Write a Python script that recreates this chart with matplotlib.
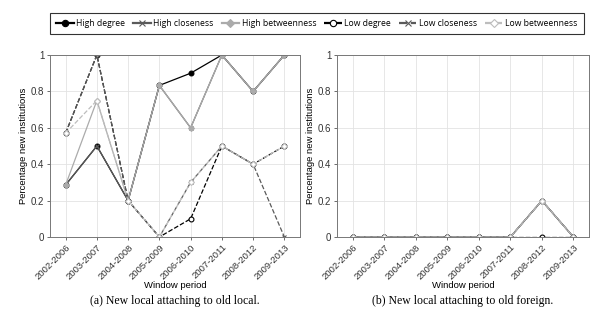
import numpy as np
import matplotlib
matplotlib.use("Agg")
import matplotlib.pyplot as plt

# window periods on the x axis
periods = ["2002-2006", "2003-2007", "2004-2008", "2005-2009",
           "2006-2010", "2007-2011", "2008-2012", "2009-2013"]

# (a) new local attaching to old local
a_high_degree = [0.286, 0.5, 0.2, 0.833, 0.9, 1.0, 0.8, 1.0]
a_high_closeness = [0.286, 0.5, 0.2, 0.833, 0.6, 1.0, 0.8, 1.0]
a_high_betweenness = [0.286, 0.75, 0.2, 0.833, 0.6, 1.0, 0.8, 1.0]
a_low_degree = [0.571, 1.0, 0.2, 0.0, 0.1, 0.5, 0.4, 0.5]
a_low_closeness = [0.571, 1.0, 0.2, 0.0, 0.3, 0.5, 0.4, 0.0]
a_low_betweenness = [0.571, 0.75, 0.2, 0.0, 0.3, 0.5, 0.4, 0.5]

# (b) new local attaching to old foreign
b_high_degree = [0, 0, 0, 0, 0, 0, 0.2, 0]
b_high_closeness = [0, 0, 0, 0, 0, 0, 0.2, 0]
b_high_betweenness = [0, 0, 0, 0, 0, 0, 0.2, 0]
b_low_degree = [0, 0, 0, 0, 0, 0, 0, 0]
b_low_closeness = [0, 0, 0, 0, 0, 0, 0.2, 0]
b_low_betweenness = [0, 0, 0, 0, 0, 0, 0.2, 0]

labels = ["High degree", "High closeness", "High betweenness",
          "Low degree", "Low closeness", "Low betweenness"]
captions = ["(a) New local attaching to old local.",
            "(b) New local attaching to old foreign."]

styles = [
    dict(color="black", ls="-", marker="o", mfc="black"),
    dict(color="#5a5a5a", ls="-", marker="x", mfc="#5a5a5a"),
    dict(color="#ababab", ls="-", marker="D", mfc="#ababab", ms=3),
    dict(color="black", ls="--", marker="o", mfc="white"),
    dict(color="#5a5a5a", ls="--", marker="x", mfc="#5a5a5a"),
    dict(color="#bdbdbd", ls="--", marker="D", mfc="white", ms=3),
]

fig = plt.figure(figsize=(6.15, 3.18), dpi=100)
ax_a = fig.add_axes([0.0813, 0.2547, 0.4065, 0.5723])
ax_b = fig.add_axes([0.548, 0.2547, 0.41, 0.5723])

x = np.arange(1, len(periods) + 1)
data = [
    [a_high_degree, a_high_closeness, a_high_betweenness,
     a_low_degree, a_low_closeness, a_low_betweenness],
    [b_high_degree, b_high_closeness, b_high_betweenness,
     b_low_degree, b_low_closeness, b_low_betweenness],
]

tick_font = "Liberation Sans"
handles = []
for ax, series, cap in zip([ax_a, ax_b], data, captions):
    for vals, lab, st in zip(series, labels, styles):
        st = dict(st)
        ms = st.pop("ms", 3.5)
        h, = ax.plot(x, vals, lw=0.9, ms=ms, mew=0.8, label=lab, **st)
        if ax is ax_a:
            handles.append(h)
    ax.set_xlim(0.5, 8.5)
    ax.set_ylim(0, 1)
    ax.set_xticks(x)
    ax.set_xticklabels(periods, rotation=45, ha="right",
                       rotation_mode="anchor", fontsize=6.8, family=tick_font)
    ax.set_yticks([0, 0.2, 0.4, 0.6, 0.8, 1])
    ax.set_yticklabels(["0", "0.2", "0.4", "0.6", "0.8", "1"], fontsize=7,
                       family=tick_font)
    ax.tick_params(length=2, width=0.5, colors="#333333", pad=2)
    ax.grid(True, color="#e3e3e3", lw=0.6)
    ax.set_axisbelow(True)
    for sp in ax.spines.values():
        sp.set_color("#777777")
        sp.set_linewidth(0.7)
    ax.set_ylabel("Percentage new institutions", fontsize=6.8, labelpad=2,
                  family=tick_font)
    ax.set_xlabel("Window period", fontsize=6.8, labelpad=0, family=tick_font)
    pos = ax.get_position()
    fig.text(pos.x0 + pos.width / 2, 0.052, cap, ha="center", va="center",
             fontsize=8.5, family="Liberation Serif")

leg = fig.legend(handles=handles, loc="center left", ncol=6,
                 bbox_to_anchor=(0.0813, 0.926), borderaxespad=0,
                 frameon=True, fancybox=False, edgecolor="black",
                 handlelength=2.0, handletextpad=0.3, columnspacing=0.95,
                 borderpad=0.75, markerscale=1.3,
                 prop={"family": "Open Sans", "size": 6.2})
leg.get_frame().set_linewidth(0.8)
for ln in leg.get_lines():
    ln.set_linewidth(1.6)

fig.savefig("out.png", dpi=100)
